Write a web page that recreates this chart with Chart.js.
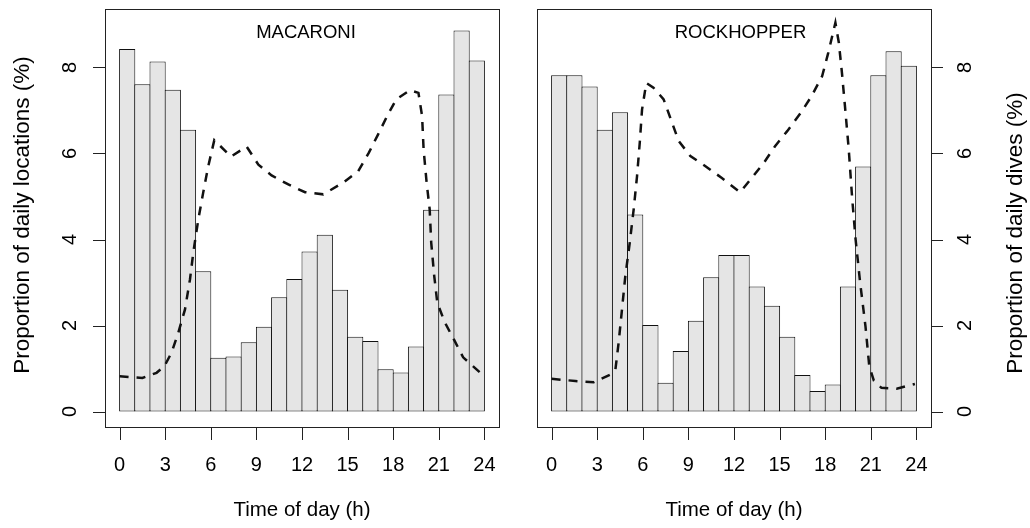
<!DOCTYPE html>
<html>
<head>
<meta charset="utf-8">
<script src="https://cdn.jsdelivr.net/npm/chart.js@4/dist/chart.umd.min.js"></script>
<style>
  html, body { margin: 0; padding: 0; background: #fff; }
  #wrap { position: relative; width: 1030px; height: 528px; }
  .panel { position: absolute; top: 0; width: 515px; height: 528px; }
</style>
</head>
<body>
<div id="wrap">
  <div class="panel" style="left:0"><canvas id="macaroni" width="515" height="528"></canvas></div>
  <div class="panel" style="left:515px"><canvas id="rockhopper" width="515" height="528"></canvas></div>
</div>
<script>
// hourly bins (bar centres, h)
const hourBins = [0.5, 1.5, 2.5, 3.5, 4.5, 5.5, 6.5, 7.5, 8.5, 9.5, 10.5, 11.5,
                  12.5, 13.5, 14.5, 15.5, 16.5, 17.5, 18.5, 19.5, 20.5, 21.5, 22.5, 23.5];

// proportion of daily locations (%) per hour
const macaroniLocations = [8.43, 7.61, 8.14, 7.48, 6.55, 3.26, 1.25, 1.28, 1.61, 1.97, 2.66, 3.08,
                           3.72, 4.11, 2.83, 1.74, 1.64, 0.98, 0.91, 1.51, 4.69, 7.37, 8.86, 8.16];
const rockhopperLocations = [7.82, 7.82, 7.56, 6.55, 6.96, 4.58, 2.01, 0.67, 1.41, 2.11, 3.12, 3.64,
                             3.64, 2.91, 2.46, 1.74, 0.85, 0.48, 0.63, 2.91, 5.70, 7.82, 8.38, 8.04];

// proportion of daily dives (%) - dashed curve
const macaroniDiveHours = [0.0, 1.5, 2.43, 2.94, 3.42, 3.86, 4.3, 4.63, 4.85, 5.18, 5.5, 5.83, 6.23,
                           7.33, 8.36, 9.13, 10.0, 11.1, 12.2, 13.4, 14.7, 15.7, 16.4, 17.0, 17.6,
                           18.2, 19.1, 19.66, 19.9, 20.0, 20.2, 20.4, 20.5, 20.7, 20.9, 21.4, 22.0,
                           22.6, 23.8];
const macaroniDives = [0.82, 0.78, 0.90, 1.05, 1.37, 1.83, 2.37, 3.07, 3.70, 4.47, 5.09, 5.70, 6.31,
                       5.93, 6.16, 5.74, 5.49, 5.28, 5.10, 5.05, 5.32, 5.59, 6.02, 6.44, 6.87,
                       7.26, 7.47, 7.41, 6.87, 6.09, 5.32, 4.70, 3.93, 3.15, 2.53, 2.07, 1.67,
                       1.26, 0.88];

const rockhopperDiveHours = [0.0, 1.56, 2.77, 3.86, 4.2, 4.41, 4.63, 4.85, 5.14, 5.4, 5.62, 5.8, 5.95,
                             6.23, 6.7, 7.37, 7.93, 8.36, 9.13, 10.1, 11.2, 12.4, 13.1, 13.96, 14.7,
                             15.5, 16.4, 17.1, 17.8, 18.2, 18.67, 18.9, 19.1, 19.3, 19.55, 19.78,
                             20.0, 20.3, 20.65, 20.9, 21.2, 21.7, 22.7, 23.9];
const rockhopperDives = [0.76, 0.71, 0.68, 0.86, 0.98, 1.60, 2.37, 3.15, 3.92, 4.70, 5.47, 6.25, 7.02,
                         7.64, 7.53, 7.26, 6.71, 6.29, 5.94, 5.71, 5.43, 5.10, 5.40, 5.78, 6.17,
                         6.52, 6.95, 7.33, 7.80, 8.34, 9.04, 8.57, 7.88, 7.10, 6.09, 4.93,
                         4.00, 2.99, 1.98, 1.05, 0.72, 0.55, 0.53, 0.64];

// axis ticks
const xTicks = [0, 3, 6, 9, 12, 15, 18, 21, 24];
const yTicks = [0, 2, 4, 6, 8];

const FONT = '"Liberation Sans", Arial, Helvetica, sans-serif';

const pairs = (xs, ys) => xs.map((v, i) => ({ x: v, y: ys[i] }));

// R-style frame: box, outward ticks, rotated y labels, titles
const rFrame = {
  id: 'rFrame',
  afterDraw(chart, args, o) {
    const { ctx, chartArea: a, scales: { x, y } } = chart;
    const left = o.side === 'left';
    ctx.save();
    ctx.strokeStyle = '#222';
    ctx.lineWidth = 1;
    ctx.strokeRect(a.left + 0.5, a.top + 0.5, a.right - a.left, a.bottom - a.top);

    ctx.beginPath();
    xTicks.forEach(v => {
      const px = Math.round(x.getPixelForValue(v)) + 0.5;
      ctx.moveTo(px, a.bottom + 1);
      ctx.lineTo(px, a.bottom + 13);
    });
    yTicks.forEach(v => {
      const py = Math.round(y.getPixelForValue(v)) + 0.5;
      if (left) { ctx.moveTo(a.left, py); ctx.lineTo(a.left - 12, py); }
      else { ctx.moveTo(a.right + 1, py); ctx.lineTo(a.right + 12, py); }
    });
    ctx.stroke();

    ctx.fillStyle = '#000';
    ctx.textAlign = 'center';
    ctx.textBaseline = 'alphabetic';
    ctx.font = '20px ' + FONT;
    xTicks.forEach(v => ctx.fillText(String(v), x.getPixelForValue(v), 471));

    ctx.font = '20.5px ' + FONT;
    ctx.fillText('Time of day (h)', (a.left + a.right) / 2, 516);

    ctx.font = '18.5px ' + FONT;
    ctx.fillText(o.label, a.left + o.labelDx, 38);

    const lx = left ? a.left - 34.5 : a.right + 34.5;
    ctx.font = '20px ' + FONT;
    ctx.textBaseline = 'middle';
    yTicks.forEach(v => {
      ctx.save();
      ctx.translate(lx, y.getPixelForValue(v));
      ctx.rotate(-Math.PI / 2);
      ctx.fillText(String(v), 0, 0);
      ctx.restore();
    });

    const tx = left ? a.left - 82 : a.right + 85;
    ctx.font = '22.5px ' + FONT;
    ctx.translate(tx, o.titleY);
    ctx.rotate(-Math.PI / 2);
    ctx.fillText(o.title, 0, 0);
    ctx.restore();
  }
};

function panel(id, bars, lineX, lineY, frame, padding) {
  return new Chart(document.getElementById(id), {
    data: {
      datasets: [
        {
          type: 'line',
          data: pairs(lineX, lineY),
          borderColor: '#111',
          borderWidth: 2.5,
          borderDash: [9, 8],
          pointRadius: 0,
          tension: 0,
          fill: false,
          order: 0
        },
        {
          type: 'bar',
          data: pairs(hourBins, bars),
          backgroundColor: '#e5e5e5',
          borderColor: '#111',
          borderWidth: 1,
          borderSkipped: false,
          barPercentage: 16.2 / 15.2,
          categoryPercentage: 1,
          order: 1
        }
      ]
    },
    options: {
      responsive: false,
      animation: false,
      devicePixelRatio: 1,
      layout: { padding },
      scales: {
        x: { type: 'linear', min: -0.96, max: 24.96, offset: false, grid: { offset: false }, display: false },
        y: { type: 'linear', min: -0.36, max: 9.36, display: false }
      },
      plugins: {
        legend: { display: false },
        tooltip: { enabled: false },
        rFrame: frame
      }
    },
    plugins: [rFrame]
  });
}

panel('macaroni', macaroniLocations, macaroniDiveHours, macaroniDives,
  { side: 'left', label: 'MACARONI', labelDx: 201, title: 'Proportion of daily locations (%)', titleY: 215 },
  { left: 105, top: 9, right: 16, bottom: 101 });

panel('rockhopper', rockhopperLocations, rockhopperDiveHours, rockhopperDives,
  { side: 'right', label: 'ROCKHOPPER', labelDx: 203.5, title: 'Proportion of daily dives (%)', titleY: 233 },
  { left: 22, top: 9, right: 99, bottom: 101 });
</script>
</body>
</html>
